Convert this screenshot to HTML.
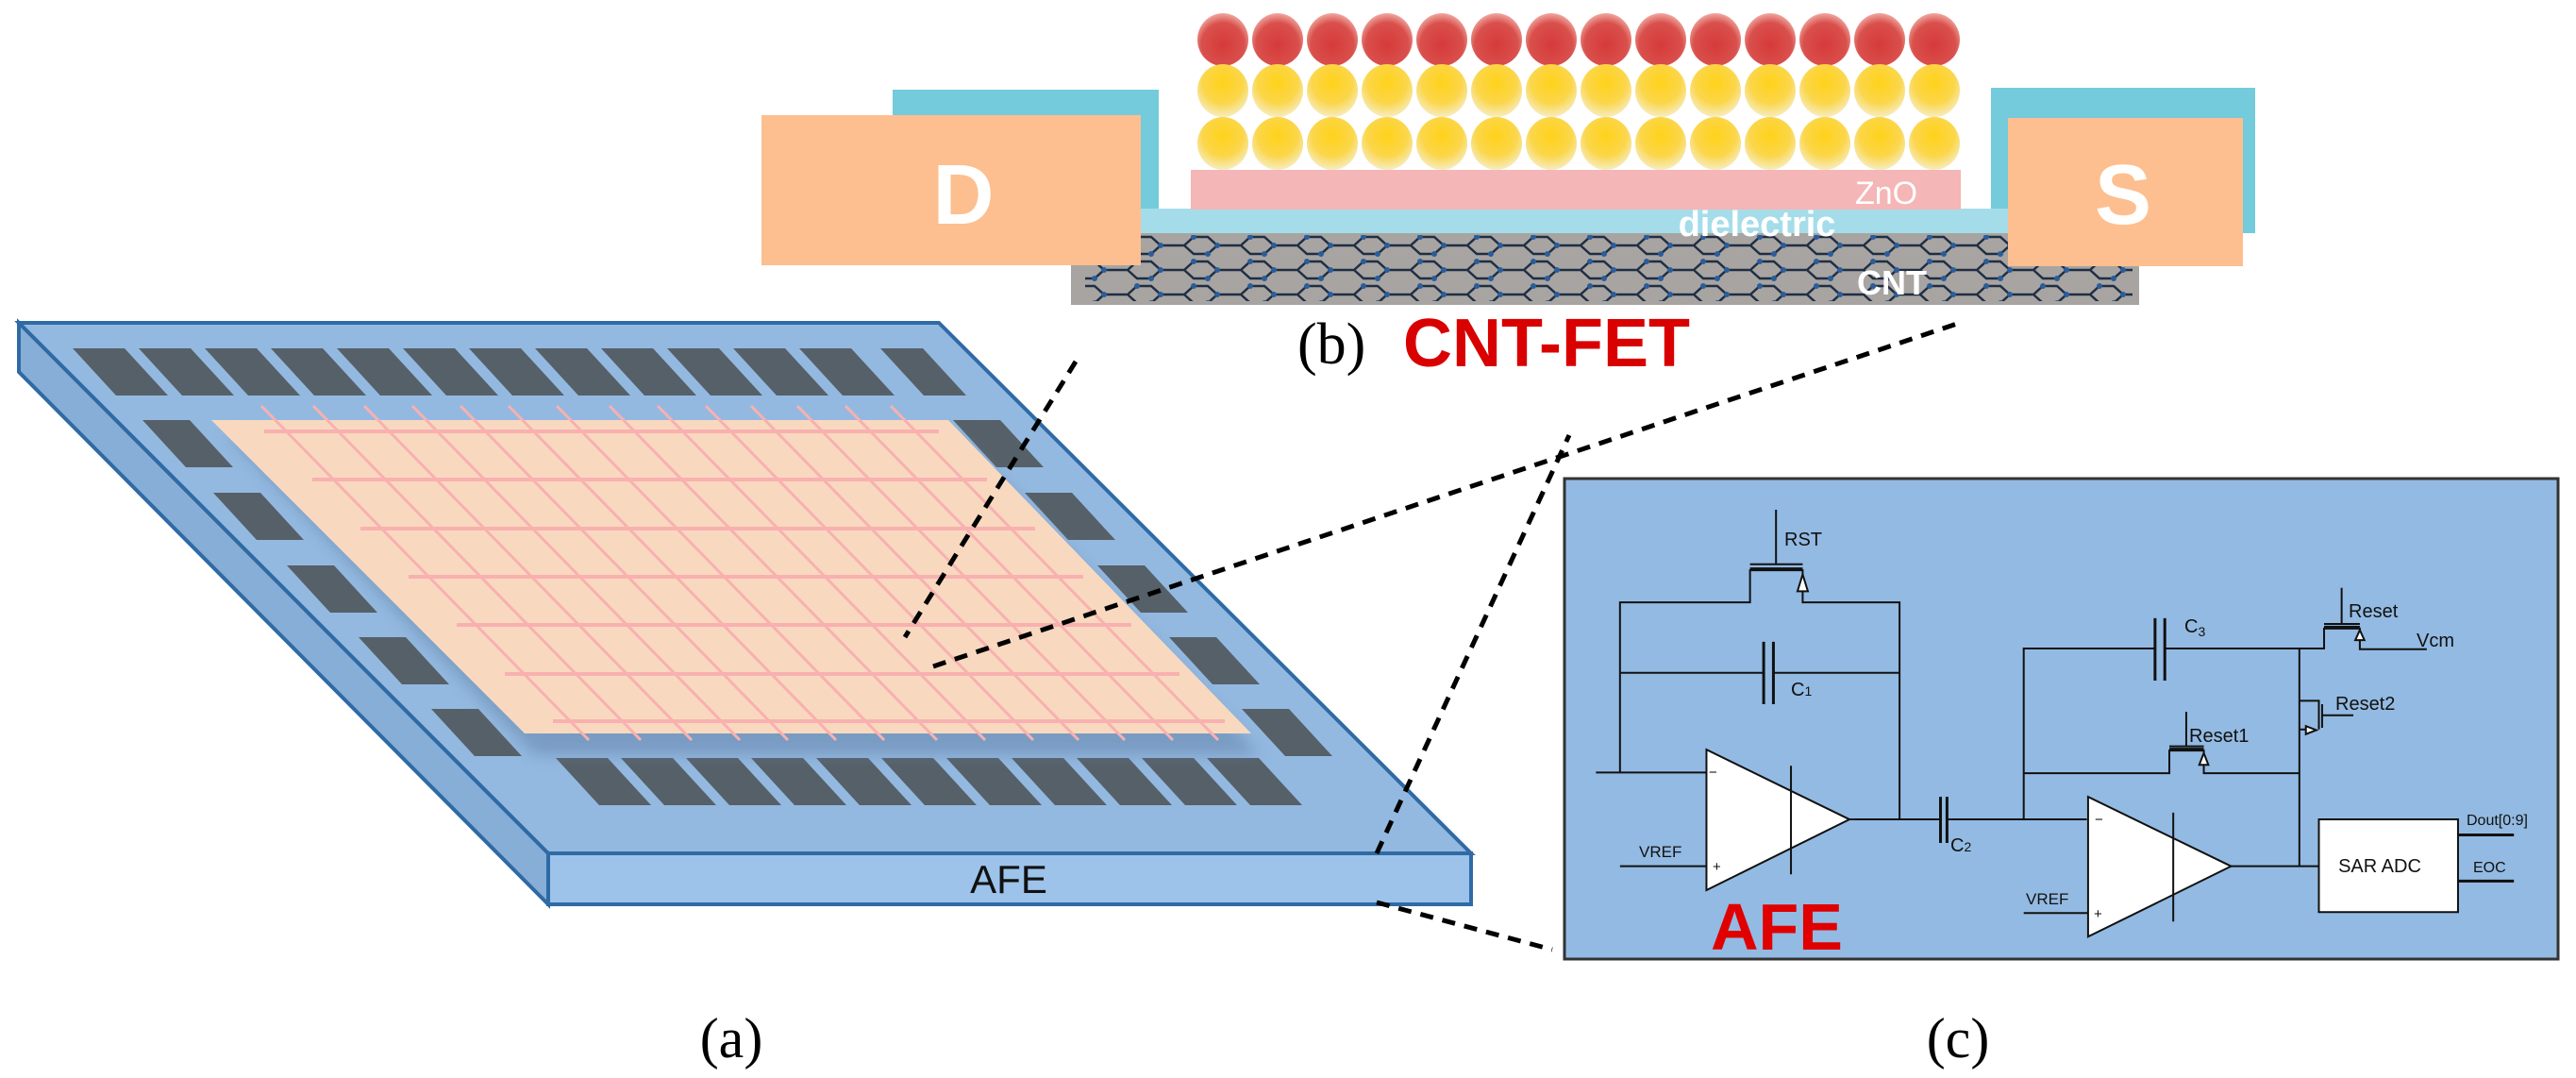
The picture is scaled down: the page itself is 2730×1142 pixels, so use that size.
<!DOCTYPE html>
<html><head><meta charset="utf-8"><style>
html,body{margin:0;padding:0;background:#fff;}
svg{display:block}
.st{font-family:"Liberation Sans",sans-serif;fill:#111;font-size:20px}
</style></head><body>
<svg width="2730" height="1142" viewBox="0 0 2730 1142" xmlns="http://www.w3.org/2000/svg">
<defs>
<radialGradient id="gr" cx="0.5" cy="0.6" r="0.6"><stop offset="0" stop-color="#d63a3a"/><stop offset="0.7" stop-color="#d9504c"/><stop offset="1" stop-color="#f0a8a0"/></radialGradient>
<radialGradient id="gy" cx="0.5" cy="0.35" r="0.65"><stop offset="0" stop-color="#ffd21a"/><stop offset="0.6" stop-color="#fbd64a"/><stop offset="1" stop-color="#f7ecc0"/></radialGradient>
<pattern id="pr" x="1267" y="14" width="58" height="56" patternUnits="userSpaceOnUse"><ellipse cx="29" cy="28" rx="27" ry="28" fill="url(#gr)"/></pattern>
<pattern id="py" x="1267" y="68" width="58" height="56" patternUnits="userSpaceOnUse"><ellipse cx="29" cy="28" rx="27" ry="28" fill="url(#gy)"/></pattern>
<pattern id="hex" x="1135" y="247" width="60" height="26" patternUnits="userSpaceOnUse">
<path d="M0 13 L10 4 L25 4 L35 13 L25 22 L10 22 Z M35 13 L60 13" fill="none" stroke="#1f2e44" stroke-width="2.5"/>
<circle cx="10" cy="4" r="3" fill="#2a5d9a"/><circle cx="35" cy="13" r="3" fill="#2a5d9a"/><circle cx="25" cy="22" r="3" fill="#2a5d9a"/></pattern>
<filter id="sh" x="-10%" y="-10%" width="120%" height="130%"><feGaussianBlur stdDeviation="8"/></filter>
</defs>

<polygon points="20,342 20,394 581,958 581,904" fill="#87aed6" stroke="#2f6aa5" stroke-width="4"/>
<polygon points="20,342 995,342 1559,904 581,904" fill="#94b9e0" stroke="#2f6aa5" stroke-width="4"/>
<rect x="581" y="904" width="978" height="54" fill="#9dc3ea" stroke="#2f6aa5" stroke-width="4"/>
<text x="1069" y="946" text-anchor="middle" font-family="Liberation Sans,sans-serif" font-size="42" fill="#111">AFE</text>

<g fill="#566068">
<polygon points="77,369 132,369 178,419 123,419"/>
<polygon points="147,369 202,369 248,419 193,419"/>
<polygon points="217,369 272,369 318,419 263,419"/>
<polygon points="287,369 342,369 388,419 333,419"/>
<polygon points="357,369 412,369 458,419 403,419"/>
<polygon points="427,369 482,369 528,419 473,419"/>
<polygon points="497,369 552,369 598,419 543,419"/>
<polygon points="567,369 622,369 668,419 613,419"/>
<polygon points="637,369 692,369 738,419 683,419"/>
<polygon points="707,369 762,369 808,419 753,419"/>
<polygon points="777,369 832,369 878,419 823,419"/>
<polygon points="847,369 902,369 948,419 893,419"/>
<polygon points="933,369 978,369 1024,419 979,419"/>
<polygon points="589,803 644,803 690,853 635,853"/>
<polygon points="658,803 713,803 759,853 704,853"/>
<polygon points="727,803 782,803 828,853 773,853"/>
<polygon points="796,803 851,803 897,853 842,853"/>
<polygon points="865,803 920,803 966,853 911,853"/>
<polygon points="934,803 989,803 1035,853 980,853"/>
<polygon points="1003,803 1058,803 1104,853 1049,853"/>
<polygon points="1072,803 1127,803 1173,853 1118,853"/>
<polygon points="1141,803 1196,803 1242,853 1187,853"/>
<polygon points="1210,803 1265,803 1311,853 1256,853"/>
<polygon points="1279,803 1334,803 1380,853 1325,853"/>
<polygon points="151,445 201,445 247,495 197,495"/>
<polygon points="226,522 276,522 322,572 272,572"/>
<polygon points="304,599 354,599 400,649 350,649"/>
<polygon points="380,675 430,675 476,725 426,725"/>
<polygon points="457,751 507,751 553,801 503,801"/>
<polygon points="1010,445 1060,445 1106,495 1056,495"/>
<polygon points="1086,522 1136,522 1182,572 1132,572"/>
<polygon points="1163,599 1213,599 1259,649 1209,649"/>
<polygon points="1239,675 1289,675 1335,725 1285,725"/>
<polygon points="1316,751 1366,751 1412,801 1362,801"/>
</g>

<polygon points="240,460 1015,460 1336,800 566,800" fill="#5f7fa6" opacity="0.5" filter="url(#sh)"/>
<polygon points="224,445 1005,445 1326,777 556,777" fill="#f8d9bf"/>
<g stroke="#f9b0b0" stroke-width="4">
<line x1="280" y1="457" x2="995" y2="457"/>
<line x1="331" y1="508" x2="1046" y2="508"/>
<line x1="382" y1="560" x2="1097" y2="560"/>
<line x1="433" y1="611" x2="1148" y2="611"/>
<line x1="484" y1="662" x2="1199" y2="662"/>
<line x1="535" y1="714" x2="1250" y2="714"/>
<line x1="586" y1="764" x2="1298" y2="764"/>
</g>
<g stroke="#f9b0b0" stroke-width="3">
<line x1="277" y1="430" x2="624" y2="784"/>
<line x1="332" y1="430" x2="679" y2="784"/>
<line x1="386" y1="430" x2="733" y2="784"/>
<line x1="437" y1="430" x2="784" y2="784"/>
<line x1="488" y1="430" x2="835" y2="784"/>
<line x1="539" y1="430" x2="886" y2="784"/>
<line x1="590" y1="430" x2="937" y2="784"/>
<line x1="646" y1="430" x2="993" y2="784"/>
<line x1="697" y1="430" x2="1044" y2="784"/>
<line x1="748" y1="430" x2="1095" y2="784"/>
<line x1="796" y1="430" x2="1143" y2="784"/>
<line x1="845" y1="430" x2="1192" y2="784"/>
<line x1="896" y1="430" x2="1243" y2="784"/>
<line x1="944" y1="430" x2="1291" y2="784"/>
</g>

<g stroke="#000" stroke-width="5" stroke-dasharray="14 10" fill="none">
<line x1="1140" y1="383" x2="959" y2="675"/>
<line x1="989" y1="706" x2="2080" y2="341"/>
<line x1="1459" y1="904" x2="1663" y2="461"/>
<line x1="1459" y1="956" x2="1645" y2="1006"/>
</g>

<rect x="946" y="95" width="282" height="152" fill="#74cbdc"/>
<rect x="2110" y="93" width="280" height="154" fill="#74cbdc"/>
<rect x="1228" y="98" width="882" height="123" fill="#fff"/>
<rect x="1209" y="221" width="919" height="26" fill="#a4dde9"/>
<rect x="1135" y="247" width="1132" height="76" fill="#a7a4a2"/>
<rect x="1150" y="249" width="1110" height="70" fill="url(#hex)"/>
<rect x="807" y="122" width="402" height="159" fill="#fdbf8f"/>
<rect x="2128" y="125" width="249" height="157" fill="#fdbf8f"/>
<rect x="1262" y="180" width="816" height="42" fill="#f4b6b6"/>
<rect x="1267" y="14" width="812" height="56" fill="url(#pr)"/>
<rect x="1267" y="68" width="812" height="56" fill="url(#py)"/>
<rect x="1267" y="122" width="812" height="58" fill="url(#py)"/>
<g font-family="Liberation Sans,sans-serif" fill="#fff">
<text x="1021" y="237" text-anchor="middle" font-size="90" font-weight="bold">D</text>
<text x="2250" y="237" text-anchor="middle" font-size="90" font-weight="bold">S</text>
<text x="1999" y="216" text-anchor="middle" font-size="34">ZnO</text>
<text x="1862" y="250" text-anchor="middle" font-size="38" font-weight="bold">dielectric</text>
<text x="2005" y="312" text-anchor="middle" font-size="36" font-weight="bold">CNT</text>
</g>
<text x="1375" y="385" font-family="Liberation Serif,serif" font-size="62" fill="#000">(b)</text>
<text x="1487" y="388" font-family="Liberation Sans,sans-serif" font-size="72" font-weight="bold" fill="#d90000">CNT-FET</text>

<rect x="1658" y="507" width="1053" height="509" fill="#93bae2" stroke="#333" stroke-width="3"/>
<g transform="translate(1650,480) scale(0.689,0.357)" fill="none" stroke="#111" stroke-width="2">
<path vector-effect="non-scaling-stroke" d="M60 948 H230 M97 948 V443 H297 V345 M378 345 V443 H527 V1087 M297 330 H378 M337 168 V330 M97 652 H318 M333 652 H527"/>
<path vector-effect="non-scaling-stroke" stroke-width="4" d="M297 345 H378"/>
<path vector-effect="non-scaling-stroke" stroke-width="3" d="M318 560 V745 M333 560 V745"/>
<polygon vector-effect="non-scaling-stroke" points="230,880 230,1297 450,1087" fill="#fff"/>
<path vector-effect="non-scaling-stroke" d="M360 928 V1250 M97 1226 H230 M450 1087 H590 M600 1087 H815 M718 1087 V580 H920 M935 580 H1180 V518 M1235 518 V582 H1338 M1207 400 V507 M1180 507 H1235 M1142 580 V1226 M1142 735 H1172 V820 M1177 745 V815 M1177 778 H1225 M1142 820 H1165 M718 950 H942 V880 M995 880 V950 H1142 M968 768 V870 M942 870 H995"/>
<path vector-effect="non-scaling-stroke" stroke-width="4" d="M1180 518 H1235 M942 880 H995"/>
<path vector-effect="non-scaling-stroke" stroke-width="3" d="M590 1020 V1157 M600 1020 V1157 M920 490 V675 M935 490 V675"/>
<polygon vector-effect="non-scaling-stroke" points="817,1020 817,1435 1037,1226" fill="#fff"/>
<path vector-effect="non-scaling-stroke" d="M948 1067 V1390 M718 1365 H817 M1037 1226 H1172"/>
<rect vector-effect="non-scaling-stroke" x="1172" y="1087" width="214" height="275" fill="#fff"/>
<path vector-effect="non-scaling-stroke" stroke-width="3" d="M1386 1133 H1472 M1386 1270 H1472"/>
<polygon vector-effect="non-scaling-stroke" points="378,360 370,410 386,410" fill="#fff"/>
<polygon vector-effect="non-scaling-stroke" points="1235,525 1228,555 1242,555" fill="#fff"/>
<polygon vector-effect="non-scaling-stroke" points="995,890 988,925 1002,925" fill="#fff"/>
<polygon vector-effect="non-scaling-stroke" points="1168,822 1152,810 1152,834" fill="#fff"/>
</g>
<g class="st">
<text x="1891" y="578">RST</text>
<text x="1898" y="737">C<tspan font-size="14">1</tspan></text>
<text x="1737" y="908" font-size="17">VREF</text>
<text x="1811" y="823" font-size="15">−</text>
<text x="1815" y="923" font-size="15">+</text>
<text x="2067" y="902">C<tspan font-size="14">2</tspan></text>
<text x="2315" y="670">C<tspan font-size="14" dy="4">3</tspan></text>
<text x="2489" y="654">Reset</text>
<text x="2561" y="685">Vcm</text>
<text x="2475" y="752">Reset2</text>
<text x="2320" y="786">Reset1</text>
<text x="2147" y="958" font-size="17">VREF</text>
<text x="2220" y="873" font-size="15">−</text>
<text x="2219" y="973" font-size="15">+</text>
<text x="2522" y="924" text-anchor="middle" font-size="20">SAR ADC</text>
<text x="2614" y="874" font-size="16">Dout[0:9]</text>
<text x="2621" y="924" font-size="16">EOC</text>
</g>
<text x="1813" y="1006" font-family="Liberation Sans,sans-serif" font-size="70" font-weight="bold" fill="#e00000">AFE</text>

<text x="775" y="1120" text-anchor="middle" font-family="Liberation Serif,serif" font-size="60" fill="#000">(a)</text>
<text x="2075" y="1120" text-anchor="middle" font-family="Liberation Serif,serif" font-size="60" fill="#000">(c)</text>
</svg>
</body></html>
